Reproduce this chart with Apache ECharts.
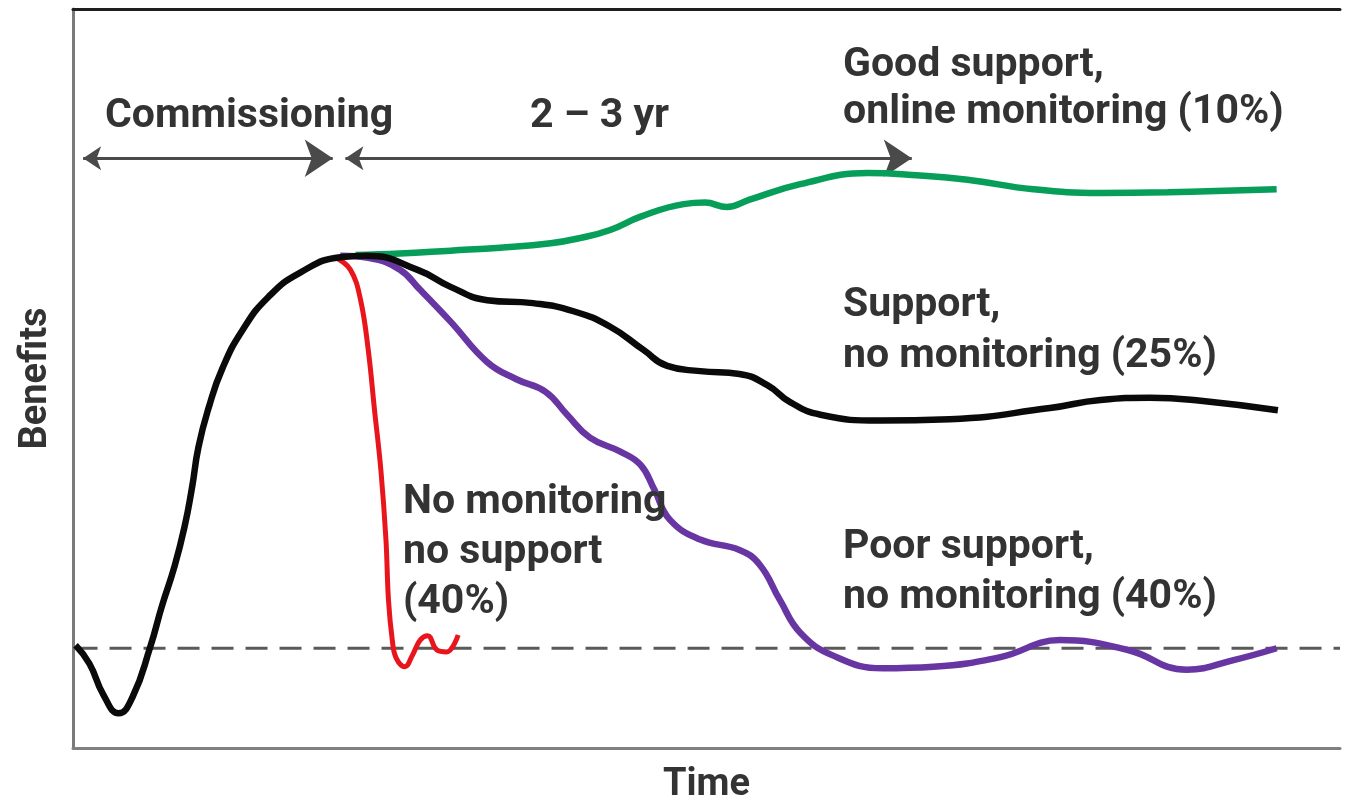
<!DOCTYPE html>
<html>
<head>
<meta charset="utf-8">
<script src="https://cdn.jsdelivr.net/npm/echarts@6/dist/echarts.min.js"></script>
<style>
html,body{margin:0;padding:0;background:#fff;}
#chart{width:1345px;height:805px;}
</style>
</head>
<body>
<div id="chart"></div>
<script>
// Time (arbitrary units 0-100) and Benefits (arbitrary units 0-100)
const supportNoMonitoring = [
  [0.2,13.9],[1.3,11.4],[2.4,7.2],[3.6,4.7],[4.7,6.9],[6.1,13.7],[7.0,19.1],[8.0,24.5],
  [8.8,29.9],[9.4,35.3],[9.9,40.7],[10.7,46.0],[11.8,51.4],[13.4,56.6],[15.4,61.0],
  [17.9,64.3],[21.1,66.4],[23.2,66.6],[27.2,64.7],[29.8,62.4],
  [32.7,60.6],[36.3,60.2],[39.5,59.1],[42.4,57.0],[45.0,53.9],[46.9,51.7],[49.5,51.0],
  [52.6,50.6],[54.8,49.1],[56.6,46.8],[59.0,45.1],[63.7,44.3],[69.2,44.5],[77.1,46.0],
  [81.1,47.1],[85.0,47.4],[89.0,47.0],[95.1,45.7]
];
const goodSupportOnline = [
  [22.3,66.7],[25.8,66.9],[29.8,67.3],[33.7,67.7],[37.7,68.3],[40.0,69.0],[42.4,70.1],
  [44.8,71.9],[48.2,73.6],[49.9,73.8],[51.6,73.2],[53.4,74.2],[57.4,76.3],[62.7,77.8],
  [66.6,77.5],[70.6,76.9],[75.8,75.6],[81.1,75.1],[86.4,75.2],[95.0,75.6]
];
const poorSupportNoMonitoring = [
  [21.1,66.6],[23.4,66.3],[25.8,64.7],[27.4,62.0],[29.8,57.7],[32.7,52.2],[35.0,49.9],
  [37.3,48.2],[39.0,45.1],[40.8,42.0],[43.2,40.1],[44.8,38.3],[45.9,34.9],[47.1,30.9],
  [49.5,28.2],[52.6,26.8],[54.2,24.8],[55.8,20.0],[57.4,15.6],[60.0,12.5],[63.9,10.8],
  [67.9,11.0],[73.2,12.3],[77.9,14.6],[83.2,13.3],[87.9,10.6],[91.6,11.9],[95.0,13.5]
];
const noMonitoringNoSupport = [
  [20.7,66.4],[21.9,64.7],[22.7,60.6],[23.3,53.9],[23.8,45.7],[24.3,37.6],[24.7,28.2],
  [24.9,20.0],[25.2,14.6],[25.5,12.2],[26.2,11.0],[26.8,12.6],[27.4,14.6],[28.0,15.2],
  [28.7,13.3],[29.5,13.0],[30.4,15.3]
];
const baselineLevel = 13.5;
const baseline = [[0.2, baselineLevel], [100, baselineLevel]];
const arrowLevel = 79.8;
const commissioningSpan = [0.8, 20.5];
const yearsSpan = [21.5, 66.2];

const chart = echarts.init(document.getElementById('chart'), null, {renderer:'canvas'});
const FONT = 'bold 41px Roboto';
const TXT = '#333333';
function label(text, x, y){
  return {type:'text', x:x, y:y, z:100,
    style:{text:text, font:FONT, fill:TXT, textAlign:'left', textVerticalAlign:'middle'}};
}
const hidden = {axisTick:{show:false}, axisLabel:{show:false}, splitLine:{show:false}};
const option = {
  backgroundColor:'#ffffff',
  animation:false,
  grid:{left:73, right:5, top:9, bottom:57, containLabel:false, outerBoundsMode:'none'},
  xAxis:[
    Object.assign({type:'value', min:0, max:100, position:'bottom',
     axisLine:{show:true, onZero:false, lineStyle:{color:'#808080', width:3}},
     name:'Time', nameLocation:'middle', nameGap:18,
     nameTextStyle:{fontFamily:'Roboto', fontWeight:'bold', fontSize:38, color:TXT,
       verticalAlign:'top'}}, hidden),
    Object.assign({type:'value', min:0, max:100, position:'top',
     axisLine:{show:true, onZero:false, lineStyle:{color:'#1e1e1e', width:3}}}, hidden)
  ],
  yAxis:[
    Object.assign({type:'value', min:0, max:100, position:'left',
     axisLine:{show:true, onZero:false, lineStyle:{color:'#7a7a7a', width:3}},
     name:'Benefits', nameLocation:'middle', nameGap:18, nameRotate:90,
     nameTextStyle:{fontFamily:'Roboto', fontWeight:'bold', fontSize:38, color:TXT}}, hidden)
  ],
  series:[
    {type:'line', name:'baseline', data:baseline, symbol:'none', z:1,
     lineStyle:{color:'#5a5a5a', width:3, type:[22,12]}},
    {type:'lines', coordinateSystem:'cartesian2d', z:2,
     symbol:['arrow','arrow'], symbolSize:[18,28],
     lineStyle:{color:'#4a4a4a', width:3, opacity:1},
     data:[
       {coords:[[commissioningSpan[0],arrowLevel],[commissioningSpan[1],arrowLevel]]},
       {coords:[[yearsSpan[0],arrowLevel],[yearsSpan[1],arrowLevel]]}
     ]},
    {type:'line', name:'No monitoring no support', data:noMonitoringNoSupport, symbol:'none', smooth:0.4, z:3,
     lineStyle:{color:'#e8161c', width:5}},
    {type:'line', name:'Poor support, no monitoring', data:poorSupportNoMonitoring, symbol:'none', smooth:0.45, z:4,
     lineStyle:{color:'#6836a3', width:6.5}},
    {type:'line', name:'Good support, online monitoring', data:goodSupportOnline, symbol:'none', smooth:0.45, z:5,
     lineStyle:{color:'#079e5a', width:6.5}},
    {type:'line', name:'Support, no monitoring', data:supportNoMonitoring, symbol:'none', smooth:0.5, z:6,
     lineStyle:{color:'#0a0a0a', width:6.5}}
  ],
  graphic:[
    label('Commissioning', 105, 117),
    label('2 – 3 yr', 530, 117),
    label('Good support,', 843, 66),
    label('online monitoring (10%)', 843, 113),
    label('Support,', 843, 306),
    label('no monitoring (25%)', 843, 357),
    label('No monitoring', 403, 503),
    label('no support', 403, 553),
    label('(40%)', 403, 603),
    label('Poor support,', 843, 548),
    label('no monitoring (40%)', 843, 598)
  ]
};
chart.setOption(option);
</script>
</body>
</html>
